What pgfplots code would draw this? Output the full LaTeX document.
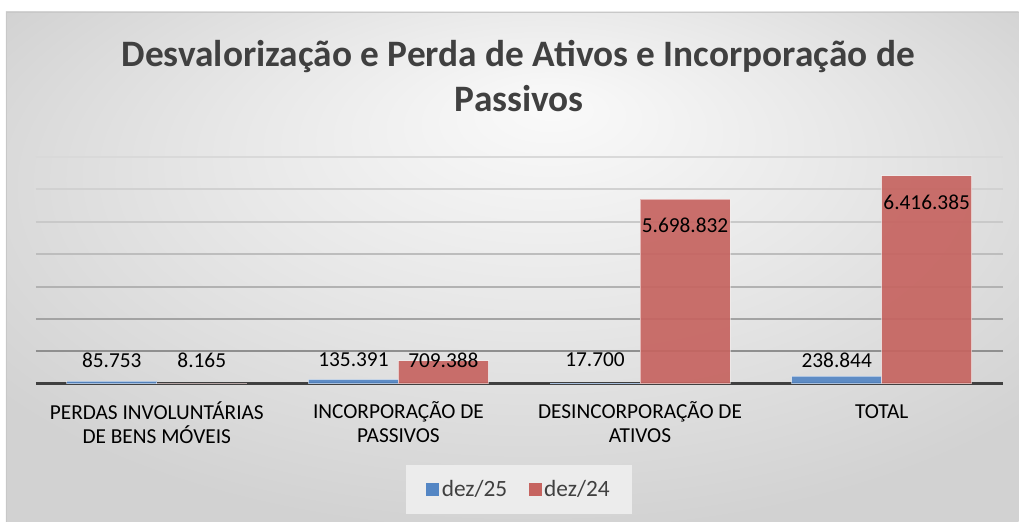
\documentclass[border=0pt]{standalone}
\usepackage{fontspec}
\setmainfont{Carlito}
\usepackage{pgfplots}
\pgfplotsset{compat=1.18}
\usepackage{pgfplotstable}
\definecolor{cblue}{RGB}{84,134,196}
\definecolor{cred}{RGB}{198,100,96}
\definecolor{ctitle}{RGB}{64,64,64}
\definecolor{caxis}{RGB}{64,64,64}
\definecolor{bgouter}{RGB}{210,210,210}
\definecolor{bgmid}{RGB}{232,232,232}
\definecolor{bginner}{RGB}{250,250,250}
\definecolor{framec}{RGB}{200,200,200}
\definecolor{legfill}{RGB}{236,236,236}
\pgfdeclareradialshading{bgshade}{\pgfpoint{2bp}{16bp}}{color(0bp)=(bginner); color(15bp)=(bgmid); color(32bp)=(bgouter); color(50bp)=(bgouter)}

% v = value, m = value in millions (plotted)
\pgfplotstableread{
x v m
0 85753 0.085753
1 135391 0.135391
2 17700 0.017700
3 238844 0.238844
}\dezv
\pgfplotstableread{
x v m
0 8165 0.008165
1 709388 0.709388
2 5698832 5.698832
3 6416385 6.416385
}\dezq

\begin{document}
\begin{tikzpicture}
\begin{scope}[x=0.75pt,y=0.75pt]
\fill[white] (0,0) rectangle (1019,522);
\shade[shading=bgshade] (6,0) rectangle (1019,510);
\draw[framec, line width=0.75pt] (6.5,0) -- (6.5,509.5) -- (1019,509.5);
\node[anchor=base, inner sep=0pt, font=\fontsize{28}{32}\selectfont\bfseries, text=ctitle] at (518.5,455) {Desvalorização e Perda de Ativos e Incorporação de};
\node[anchor=base, inner sep=0pt, font=\fontsize{28}{32}\selectfont\bfseries, text=ctitle] at (519.5,410) {Passivos};
\end{scope}
\begin{axis}[
  at={(27pt,103.5pt)}, anchor=south west,
  scale only axis, width=725.25pt, height=170.25pt,
  xmin=-0.5, xmax=3.5, ymin=0, ymax=7,
  ybar=0pt, bar width=67.5pt,
  axis x line*=bottom, axis y line=none,
  x axis line style={line width=2.25pt, caxis, -},
  xtick=data,
  xticklabels={{\rule{0pt}{13pt}PERDAS INVOLUNTÁRIAS\\DE BENS MÓVEIS},{\rule{0pt}{13pt}INCORPORAÇÃO DE\\PASSIVOS},{\rule{0pt}{13pt}DESINCORPORAÇÃO DE\\ATIVOS},{\rule{0pt}{13pt}TOTAL}},
  major tick length=0pt,
  xticklabel style={font=\fontsize{16}{18}\selectfont, align=center, anchor=north, inner sep=0pt, yshift=-13pt, text=black},
  ytick=\empty,
  clip=false,
  /pgf/number format/1000 sep={.},
  /pgf/number format/fixed,
  /pgf/number format/precision=0,
  /pgf/number format/assume math mode=true,
  legend columns=2,
  legend style={at={(0.5,-0.467)}, anchor=center, draw=none, fill=legfill, font=\fontsize{17.5}{20}\selectfont, text=ctitle, inner xsep=15pt, inner ysep=9.5pt, /tikz/every even column/.append style={column sep=14pt}},
  legend image code/.code={\fill[#1, draw=none] (0pt,-4.9pt) rectangle (9.75pt,4.9pt);},
  lbl/.style={nodes near coords, point meta=explicit,
    visualization depends on={y \as \ym},
    every node near coord/.append style={font=\fontsize{16}{18}\selectfont, text=black, text opacity=1, anchor=center, yshift={max(-20pt,18pt-\ym*24.32pt)}}},
]
\draw[line width=1.5pt, black!44] (axis cs:-0.5,1) -- (axis cs:3.5,1);
\draw[line width=1.5pt, black!36] (axis cs:-0.5,2) -- (axis cs:3.5,2);
\draw[line width=1.5pt, black!30] (axis cs:-0.5,3) -- (axis cs:3.5,3);
\draw[line width=1.5pt, black!26] (axis cs:-0.5,4) -- (axis cs:3.5,4);
\draw[line width=1.5pt, black!21] (axis cs:-0.5,5) -- (axis cs:3.5,5);
\draw[line width=1.5pt, black!18] (axis cs:-0.5,6) -- (axis cs:3.5,6);
\draw[line width=1.5pt, black!15] (axis cs:-0.5,7) -- (axis cs:3.5,7);
\addlegendimage{fill=cblue}
\addlegendentry{dez/25}
\addlegendimage{fill=cred}
\addlegendentry{dez/24}
\addplot[lbl, fill=cblue, fill opacity=0.92, draw=white, draw opacity=0.5, line width=0.6pt] table[x=x, y=m, meta=v] {\dezv};
\addplot[lbl, fill=cred, fill opacity=0.92, draw=white, draw opacity=0.5, line width=0.6pt] table[x=x, y=m, meta=v] {\dezq};
\end{axis}
\end{tikzpicture}
\end{document}
